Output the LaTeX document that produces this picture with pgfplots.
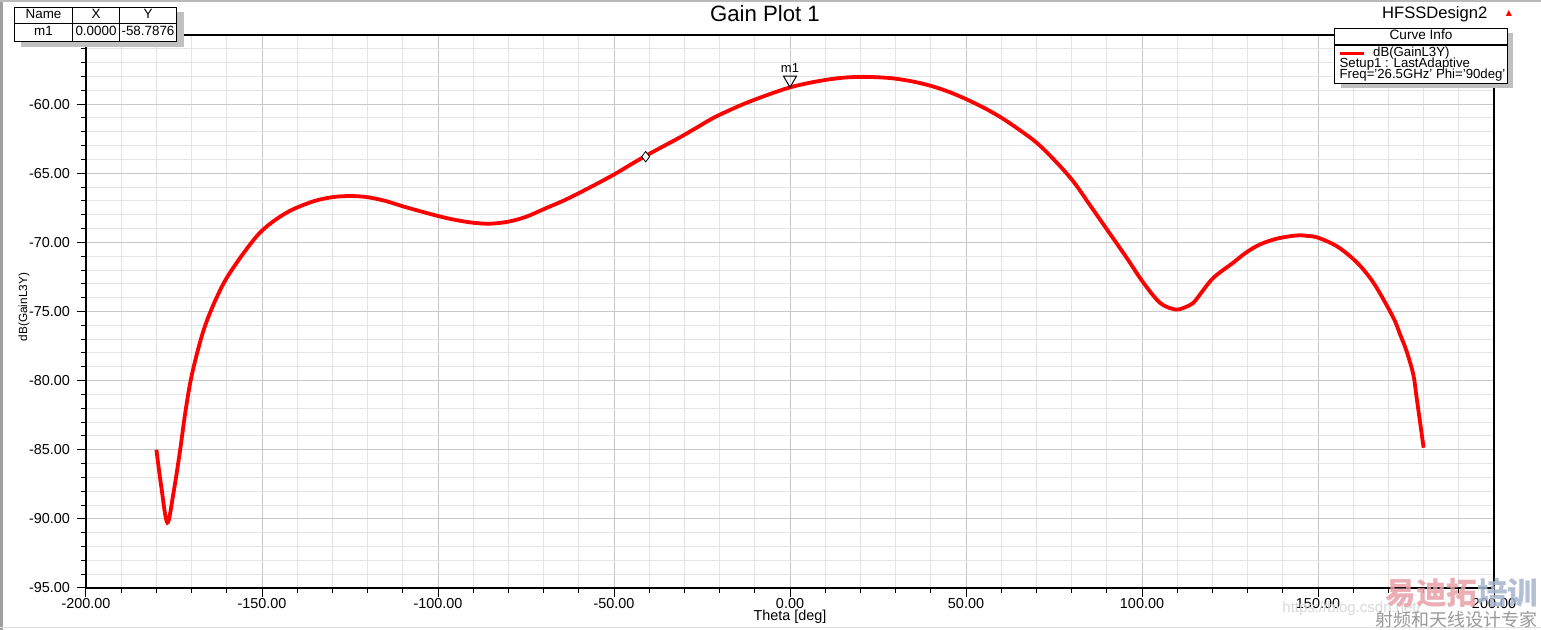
\documentclass[border=0pt]{standalone}
\usepackage{fontspec}
\setmainfont{Liberation Sans}
\newfontfamily\cjk{Noto Sans CJK SC}
\newfontfamily\dejavu{DejaVu Sans}
\usepackage{pgfplots}
\usepackage{pgfplotstable}
\pgfplotsset{compat=1.18}
\definecolor{majgrid}{RGB}{200,200,200}
\definecolor{mingrid}{RGB}{228,228,228}
\definecolor{shadowgray}{RGB}{192,192,192}
\definecolor{curvered}{RGB}{255,0,0}
\definecolor{wmpink}{RGB}{232,160,168}
\definecolor{wmblue}{RGB}{165,180,205}

\pgfplotstableread{
theta gain
-180.0 -85.0
-178.6 -87.7
-176.9 -90.27
-175.2 -88.2
-173.3 -85.1
-171.9 -82.5
-170.2 -79.9
-167.8 -77.4
-165.7 -75.7
-162.9 -74.0
-160.0 -72.56
-155.3 -70.8
-150.6 -69.3
-145.8 -68.3
-141.1 -67.6
-135.0 -67.0
-129.7 -66.72
-125.0 -66.65
-120.3 -66.72
-115.0 -67.0
-109.9 -67.4
-105.0 -67.75
-99.9 -68.1
-95.0 -68.38
-90.0 -68.58
-85.2 -68.65
-80.0 -68.5
-75.0 -68.15
-69.1 -67.5
-64.5 -67.0
-59.7 -66.4
-55.0 -65.78
-49.9 -65.08
-45.3 -64.38
-40.7 -63.7
-36.0 -63.05
-31.25 -62.4
-26.5 -61.7
-21.8 -61.0
-17.0 -60.42
-12.3 -59.9
-6.0 -59.3
0.0 -58.79
5.7 -58.45
11.4 -58.2
16.0 -58.07
20.8 -58.03
25.0 -58.06
29.4 -58.14
35.0 -58.37
40.3 -58.7
45.3 -59.13
50.2 -59.66
55.2 -60.28
60.1 -60.99
65.1 -61.85
70.1 -62.8
75.3 -64.1
80.5 -65.6
85.2 -67.3
90.4 -69.2
95.6 -71.1
100.2 -72.85
105.1 -74.37
109.4 -74.85
112.2 -74.7
114.6 -74.37
116.5 -73.76
120.3 -72.56
125.9 -71.47
129.5 -70.75
133.5 -70.15
138.5 -69.72
143.9 -69.5
147.0 -69.53
150.1 -69.67
155.3 -70.27
160.0 -71.2
163.5 -72.15
166.7 -73.3
171.4 -75.45
173.3 -76.65
175.2 -77.9
177.1 -79.6
178.0 -81.2
180.0 -84.85
}\gaindata

\begin{document}
\begin{tikzpicture}
\useasboundingbox (-43pt,-21pt) rectangle (727.5pt,294pt);
\fill[white] (-43pt,-21pt) rectangle (727.5pt,294pt);
\begin{axis}[
  at={(0,0)}, anchor=south west,
  scale only axis, width=704pt, height=276.5pt,
  clip=false,
  xmin=-200, xmax=200, ymin=-95, ymax=-55,
  xtick={-200,-150,...,200}, ytick={-95,-90,...,-60},
  minor xtick={-200,-190,...,200}, minor ytick={-95,-94,...,-55},
  grid=both,
  major grid style={majgrid, line width=0.5pt},
  minor grid style={mingrid, line width=0.5pt},
  tick align=outside, xtick pos=left, ytick pos=left,
  major tick length=4.5pt, minor tick length=2.5pt,
  tick style={black, line width=0.5pt},
  axis line style={black, line width=0.6pt},
  scaled ticks=false,
  /pgf/number format/fixed, /pgf/number format/fixed zerofill,
  /pgf/number format/precision=2, /pgf/number format/assume math mode=true,
  ticklabel style={font=\fontsize{7.2}{8}\selectfont},
  xticklabel style={yshift=3pt},
  xlabel={Theta [deg]},
  xlabel style={at={(axis description cs:0.5,-0.0591)}, anchor=base, font=\fontsize{7.2}{8}\selectfont},
  ylabel={dB(GainL3Y)},
  ylabel style={at={(axis description cs:-0.044,0.508)}, anchor=center, font=\fontsize{5.9}{7}\selectfont},
  title={Gain Plot 1},
  title style={at={(axis description cs:0.4822,1.0259)}, anchor=base, yshift=-6.3pt, font=\fontsize{11.1}{12}\selectfont},
  legend style={at={(axis description cs:0.8899,0.9669)}, anchor=west, draw=none, fill=none,
     inner sep=0pt, outer sep=0pt, font=\fontsize{6.6}{7}\selectfont,
     nodes={inner sep=0pt}},
  legend image code/.code={\draw[#1, line width=1.5pt] (0pt,0pt) -- (11.85pt,0pt); \path (15.4pt,0pt);},
]
% Curve Info box (drawn inside axis so that legend is on top)
\fill[shadowgray] (rel axis cs:0.8911,1.0031) rectangle (rel axis cs:1.0136,0.9036);
\filldraw[fill=white, draw=black, line width=0.6pt] (rel axis cs:0.8868,1.01212) rectangle (rel axis cs:1.00938,0.91266);
\draw[black, line width=0.6pt] (rel axis cs:0.8868,0.98192) -- (rel axis cs:1.00938,0.98192);
\node[anchor=base, inner sep=0pt, font=\fontsize{6.8}{7}\selectfont] at (rel axis cs:0.94815,0.99096) {Curve Info};
\node[anchor=base west, inner sep=0pt, font=\fontsize{6.6}{7}\selectfont] at (rel axis cs:0.89006,0.94159) {Setup1 : LastAdaptive};
\node[anchor=base west, inner sep=0pt, font=\fontsize{6.6}{7}\selectfont] at (rel axis cs:0.89006,0.92170) {Freq='26.5GHz' Phi='90deg'};

\addplot[curvered, line width=1.9pt, smooth, tension=0.55] table[x=theta, y=gain] {\gaindata};
\addlegendentry{dB(GainL3Y)}

\addplot[forget plot, only marks, mark=diamond*, mark size=2.6pt,
  mark options={fill=white, draw=black, line width=0.4pt}] coordinates {(-41,-63.8)};
\addplot[forget plot, only marks, mark=triangle, mark size=3.75pt,
  mark options={yshift=3.75pt, rotate=180, draw=black, fill=white, line width=0.5pt},
  nodes near coords={m1},
  every node near coord/.append style={anchor=center, yshift=6pt, inner sep=0pt, font=\fontsize{6.5}{7}\selectfont}]
  coordinates {(0,-58.7876)};
\end{axis}

% marker table
\fill[shadowgray] (-32.35pt,270.65pt) rectangle (48.85pt,287.85pt);
\filldraw[fill=white, draw=black, line width=0.6pt] (-35.85pt,273.15pt) rectangle (45.35pt,290.35pt);
\draw[black, line width=0.6pt] (-35.85pt,282.35pt) -- (45.35pt,282.35pt)
  (-6.65pt,273.15pt) -- (-6.65pt,290.35pt) (16.65pt,273.15pt) -- (16.65pt,290.35pt);
\begin{scope}[every node/.style={anchor=base, inner sep=0pt, font=\fontsize{6.7}{7}\selectfont}]
\node at (-21.25pt,284.5pt) {Name};
\node at (5pt,284.5pt) {X};
\node at (31pt,284.5pt) {Y};
\node at (-21.25pt,276.15pt) {m1};
\node at (5pt,276.15pt) {0.0000};
\node at (31pt,276.15pt) {-58.7876};
\end{scope}

% top-right design name
\node[anchor=base east, inner sep=0pt, font=\fontsize{8.3}{9}\selectfont] at (700.85pt,284.85pt) {HFSSDesign2};
\node[inner sep=0pt, text=red, font=\dejavu\fontsize{4}{4}\selectfont] at (711.5pt,287.5pt) {▲};

% window border
\fill[gray!75] (-43pt,-21pt) rectangle (-41.5pt,294pt);
\draw[gray!55, line width=1pt] (-43pt,293.5pt) -- (727.5pt,293.5pt);
\draw[gray!25, line width=0.6pt] (-43pt,-19.8pt) -- (727.5pt,-19.8pt);

% watermark
\node[anchor=west, inner sep=0pt, text=gray!30, font=\fontsize{7.5}{8}\selectfont] at (598pt,-10.5pt) {https://blog.csdn.net/};
\node[anchor=west, inner sep=0pt, font=\cjk\bfseries\fontsize{15.3}{16}\selectfont, opacity=0.85] at (649.5pt,-2.5pt) {\textcolor{wmpink}{易迪拓}\textcolor{wmblue}{培训}};
\node[anchor=west, inner sep=0pt, text=gray!80, font=\cjk\fontsize{9}{9}\selectfont] at (644.5pt,-16pt) {射频和天线设计专家};
\end{tikzpicture}
\end{document}
